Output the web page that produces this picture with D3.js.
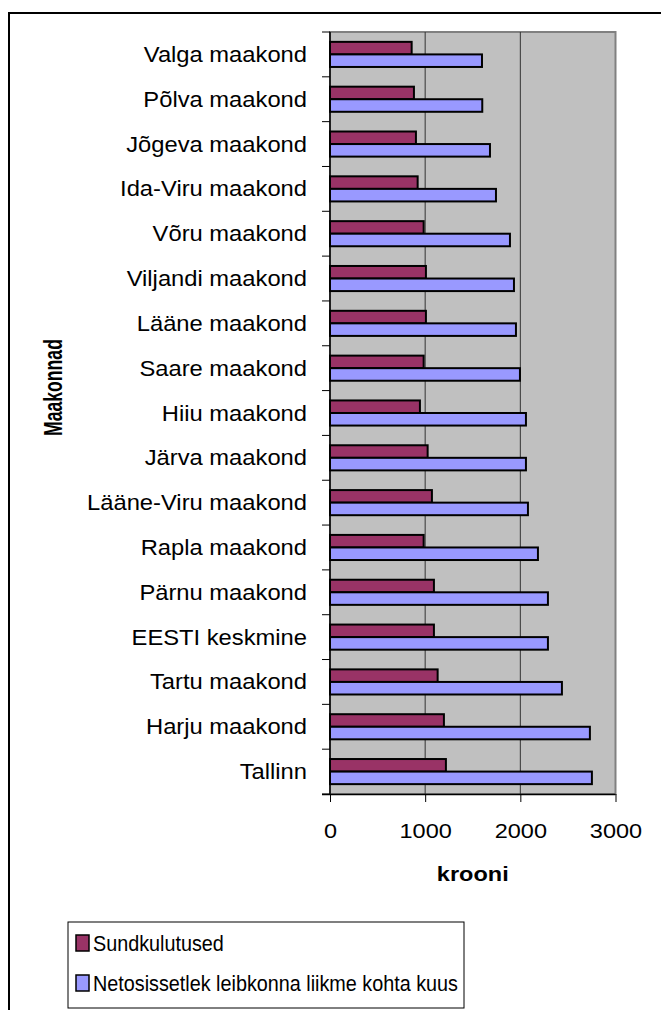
<!doctype html>
<html>
<head>
<meta charset="UTF-8" />
<script src="https://cdnjs.cloudflare.com/ajax/libs/d3/7.8.5/d3.min.js"></script>
<style>
  body { margin: 0; background: #fff; }
  svg { display: block; font-family: "Liberation Sans", Arial, sans-serif; }
</style>
</head>
<body>
<svg id="chart" width="661" height="1010"></svg>
<script>
(function(){
  "use strict";

  // data (krooni per month)
  const categories = ["Valga maakond", "Põlva maakond", "Jõgeva maakond", "Ida-Viru maakond",
    "Võru maakond", "Viljandi maakond", "Lääne maakond", "Saare maakond", "Hiiu maakond",
    "Järva maakond", "Lääne-Viru maakond", "Rapla maakond", "Pärnu maakond", "EESTI keskmine",
    "Tartu maakond", "Harju maakond", "Tallinn"];
  const sundkulutused = [858, 882, 903, 921, 984, 1008, 1008, 984, 945, 1026, 1071, 984, 1092, 1092, 1131, 1197, 1218];
  const netosissetulek = [1597, 1600, 1681, 1744, 1891, 1933, 1954, 1996, 2059, 2059, 2080, 2185, 2290, 2290, 2437, 2731, 2752];
  const seriesNames = ["Sundkulutused", "Netosissetlek leibkonna liikme kohta kuus"];
  const seriesColors = ["#993366", "#9999ff"];
  const xTicks = [0, 1000, 2000, 3000];

  const svg = d3.select("#chart");

  // outer chart frame (runs off the right and bottom edges)
  svg.append("rect")
     .attr("x", 9).attr("y", 13)
     .attr("width", 700).attr("height", 1050)
     .attr("fill", "#fff").attr("stroke", "#000").attr("stroke-width", 2);

  const plot = {left: 330, right: 615.5, top: 32, bottom: 794};

  const x = d3.scaleLinear().domain([0, 3000]).range([plot.left, plot.right]);
  const y = d3.scaleBand().domain(categories).range([plot.top, plot.bottom]).padding(0);
  const bw = y.bandwidth();
  const groupH = bw * 0.56;
  const ySub = d3.scaleBand().domain(seriesNames)
                 .range([(bw - groupH) / 2, (bw + groupH) / 2]).padding(0);

  // plot area
  svg.append("rect")
     .attr("x", plot.left).attr("y", plot.top)
     .attr("width", plot.right - plot.left).attr("height", plot.bottom - plot.top)
     .attr("fill", "#c0c0c0").attr("stroke", "#808080").attr("stroke-width", 2);

  // gridlines
  svg.append("g").selectAll("line")
     .data(xTicks.slice(1, -1))
     .enter().append("line")
     .attr("x1", d => x(d)).attr("x2", d => x(d))
     .attr("y1", plot.top).attr("y2", plot.bottom)
     .attr("stroke", "#333").attr("stroke-width", 1);

  // bars
  const rows = categories.map((c, i) => ({cat: c, vals: [sundkulutused[i], netosissetulek[i]]}));
  const grp = svg.append("g").selectAll("g")
     .data(rows)
     .enter().append("g")
     .attr("transform", d => "translate(0," + y(d.cat) + ")");
  grp.selectAll("rect")
     .data(d => d.vals.map((v, j) => ({name: seriesNames[j], v: v, j: j})))
     .enter().append("rect")
     .attr("x", x(0))
     .attr("y", d => ySub(d.name))
     .attr("width", d => x(d.v) - x(0))
     .attr("height", ySub.bandwidth())
     .attr("fill", d => seriesColors[d.j])
     .attr("stroke", "#000").attr("stroke-width", 2);

  // y axis: line, boundary ticks, labels
  svg.append("line")
     .attr("x1", plot.left).attr("x2", plot.left)
     .attr("y1", plot.top).attr("y2", plot.bottom)
     .attr("stroke", "#000").attr("stroke-width", 1.5);
  const bounds = categories.map(c => y(c)).concat([plot.bottom]);
  svg.append("g").selectAll("line")
     .data(bounds)
     .enter().append("line")
     .attr("x1", plot.left - 8).attr("x2", plot.left)
     .attr("y1", d => d).attr("y2", d => d)
     .attr("stroke", "#000").attr("stroke-width", 1);
  svg.append("g").selectAll("text")
     .data(categories)
     .enter().append("text")
     .attr("transform", d => "translate(307," + (y(d) + bw / 2 + 7.5) + ") scale(1.08,1)")
     .attr("text-anchor", "end")
     .attr("font-size", 22)
     .attr("fill", "#000")
     .text(d => d);

  // x axis
  const xAxis = d3.axisBottom(x).tickValues(xTicks).tickSize(8).tickPadding(6).tickFormat(d3.format("d"));
  const gx = svg.append("g")
     .attr("transform", "translate(0," + plot.bottom + ")")
     .call(xAxis);
  gx.select(".domain").attr("stroke", "#000").attr("stroke-width", 1.5)
    .attr("d", "M" + (plot.left - 8) + ",0.5H" + plot.right);
  gx.selectAll(".tick line").attr("stroke", "#000");
  gx.selectAll(".tick text")
    .attr("font-size", 21)
    .attr("font-family", "Liberation Sans, Arial, sans-serif")
    .attr("fill", "#000")
    .attr("y", 0).attr("dy", 0)
    .attr("transform", "translate(0,43.5) scale(1.12,1)");

  // axis titles
  svg.append("text")
     .attr("transform", "translate(" + ((plot.left + plot.right) / 2) + ",881) scale(1.12,1)")
     .attr("text-anchor", "middle")
     .attr("font-size", 21).attr("font-weight", "bold")
     .text("krooni");
  svg.append("text")
     .attr("transform", "translate(61.5," + ((339 + 436) / 2) + ") scale(1.5,1) rotate(-90)")
     .attr("text-anchor", "middle")
     .attr("font-size", 17.6).attr("font-weight", "bold")
     .text("Maakonnad");

  // legend
  const lg = svg.append("g").attr("transform", "translate(68,922)");
  lg.append("rect")
    .attr("width", 396).attr("height", 86)
    .attr("fill", "#fff").attr("stroke", "#000").attr("stroke-width", 1);
  const item = lg.selectAll("g.item")
    .data(seriesNames)
    .enter().append("g")
    .attr("class", "item")
    .attr("transform", (d, i) => "translate(0," + (i * 40) + ")");
  item.append("rect")
    .attr("x", 8).attr("y", 13)
    .attr("width", 13).attr("height", 16)
    .attr("fill", (d, i) => seriesColors[i])
    .attr("stroke", "#000").attr("stroke-width", 1.5);
  item.append("text")
    .attr("transform", "translate(25,28.5) scale(0.9,1)")
    .attr("font-size", 22)
    .attr("fill", "#000")
    .text(d => d);
})();
</script>
</body>
</html>
